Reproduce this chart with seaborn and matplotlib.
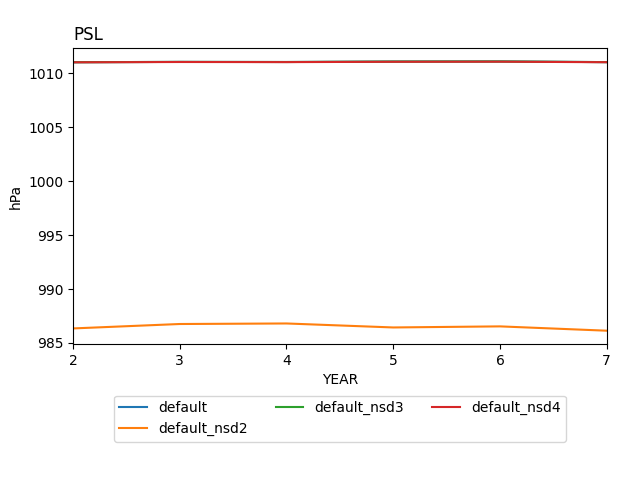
import matplotlib
matplotlib.use("Agg")
import matplotlib.pyplot as plt
import seaborn as sns
import pandas as pd

years = [2, 3, 4, 5, 6, 7]
cases = ["default", "default_nsd2", "default_nsd3", "default_nsd4"]
psl_default = [1011.02, 1011.05, 1011.04, 1011.08, 1011.09, 1011.03]
psl_nsd2 = [986.35, 986.76, 986.81, 986.44, 986.54, 986.14]
psl_nsd3 = [1011.02, 1011.05, 1011.04, 1011.08, 1011.09, 1011.03]
psl_nsd4 = [1011.01, 1011.04, 1011.03, 1011.06, 1011.07, 1011.02]

series = [psl_default, psl_nsd2, psl_nsd3, psl_nsd4]
rows = []
for case, vals in zip(cases, series):
    for y, v in zip(years, vals):
        rows.append({"YEAR": y, "PSL": v, "case": case})
df = pd.DataFrame(rows)

fig = plt.figure(figsize=(6.4, 4.8), dpi=100)
ax = fig.add_axes([0.114, 0.283, 0.834, 0.617])
sns.lineplot(data=df, x="YEAR", y="PSL", hue="case", hue_order=cases,
             palette=["tab:blue", "tab:orange", "tab:green", "tab:red"], ax=ax)

ax.set_xlim(2, 7)
ax.set_title("PSL", loc="left")
ax.set_xlabel("YEAR")
ax.set_ylabel("hPa")
ax.legend(loc="upper center", bbox_to_anchor=(0.5, -0.15), ncol=3, title=None)

plt.savefig("out.png")
plt.close()
